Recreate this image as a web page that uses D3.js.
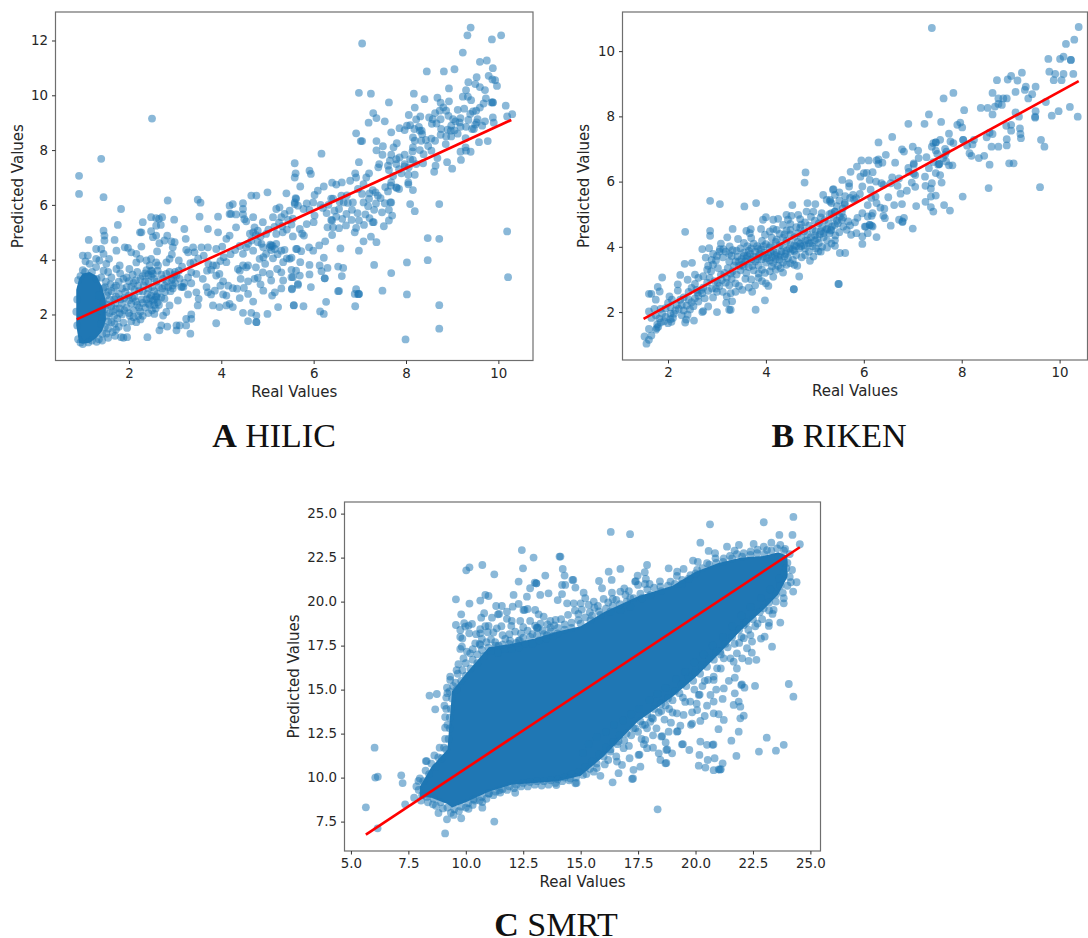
<!DOCTYPE html>
<html>
<head>
<meta charset="utf-8">
<script src="https://cdnjs.cloudflare.com/ajax/libs/d3/7.8.5/d3.min.js"></script>
<style type='text/css'>
body { margin: 0; background: #fff; }
svg { display: block; }
.tick text, .axislabel { font-family: "DejaVu Sans", sans-serif; fill: #262626; }
.tick text { font-size: 13.4px; }
.axislabel { font-size: 15px; text-anchor: middle; }
.tick line { stroke: #333; }
.frame { fill: none; stroke: #6e6e6e; stroke-width: 1.2; }
.point { fill: #1f77b4; fill-opacity: 0.52; stroke: none; }
.core { fill: #1f77b4; stroke: none; }
.fit { stroke: #ff0000; stroke-width: 2.6; fill: none; }
.title { font-family: "Liberation Serif", serif; font-size: 34px; fill: #111; text-anchor: middle; }
.title tspan { font-weight: bold; }
</style>
</head>
<body>
<div id="plot"></div>
<script type='text/javascript'>
// values: [real, predicted]
var hilicPoints = [
[9.40,12.47],[9.33,12.19],[9.86,12.04],[10.06,12.19],[7.05,11.89],[9.23,11.56],[9.60,11.22],[9.75,11.27],[9.88,10.99],[8.45,10.87],[8.82,10.87],[9.05,10.95],[9.79,10.71],[9.53,10.66],[9.35,10.48],[9.87,10.58],[9.93,10.55],[9.97,10.34],[9.50,10.41],[9.60,10.30],[9.71,10.19],[8.93,10.25],[9.30,10.19],[6.98,10.09],[7.24,10.06],[8.17,10.06],[7.63,9.74],[8.40,9.86],[8.68,9.91],[9.23,9.95],[9.34,9.95],[9.41,9.82],[8.93,9.78],[9.73,9.89],[9.68,9.70],[9.88,9.74],[9.88,9.74],[9.85,9.74],[10.16,9.62],[8.75,9.73],[8.81,9.56],[8.19,9.55],[9.60,9.55],[7.29,9.35],[7.36,9.17],[7.19,9.0],[7.54,9.05],[8.06,9.28],[8.31,9.23],[8.22,9.12],[8.50,9.19],[8.63,9.35],[8.73,9.44],[8.87,9.44],[9.12,9.47],[9.26,9.51],[9.45,9.41],[9.39,9.32],[9.52,9.44],[10.19,9.23],[10.30,9.31],[9.88,9.19],[9.90,9.0],[9.71,9.05],[9.65,8.89],[9.55,9.13],[9.53,9.01],[9.47,8.77],[9.43,8.77],[9.50,8.93],[9.18,9.17],[9.16,9.01],[9.18,8.85],[9.02,9.13],[9.07,9.05],[8.98,8.89],[8.97,8.71],[8.98,8.5],[8.76,8.77],[8.75,8.56],[8.87,8.5],[8.58,9.13],[8.75,9.13],[8.56,8.96],[8.66,8.97],[7.86,8.8],[7.97,8.73],[8.02,8.89],[8.09,8.91],[8.18,8.77],[8.30,8.71],[8.34,8.71],[6.92,8.61],[7.68,8.65],[8.15,8.46],[8.19,8.34],[8.33,8.34],[8.43,8.37],[8.63,8.34],[7.02,8.33],[7.05,8.33],[7.36,8.33],[7.80,8.25],[7.73,8.1],[7.50,8.14],[7.36,7.99],[7.49,7.83],[7.68,7.83],[7.97,7.83],[8.15,8.1],[8.14,7.95],[8.30,8.0],[8.55,7.98],[8.86,8.22],[9.29,8.44],[9.29,8.1],[9.18,7.94],[9.30,7.98],[9.40,7.94],[9.58,8.29],[9.77,8.33],[6.17,7.87],[5.59,7.52],[6.98,7.56],[7.79,7.67],[7.65,7.61],[7.42,7.49],[7.40,7.37],[7.61,7.43],[7.63,7.27],[7.79,7.49],[7.86,7.73],[8.09,7.67],[8.15,7.64],[7.97,7.49],[8.22,7.49],[8.37,7.52],[8.64,7.43],[8.68,7.71],[8.89,7.56],[9.0,7.32],[9.19,7.64],[8.61,7.21],[8.06,7.37],[8.19,7.1],[7.97,7.4],[5.91,7.25],[5.94,7.13],[5.61,7.15],[5.59,7.0],[6.90,7.15],[6.92,7.0],[7.20,7.15],[7.14,7.0],[6.79,6.88],[6.40,6.81],[6.49,6.74],[6.61,6.82],[6.22,6.67],[6.09,6.52],[5.71,6.67],[6.02,6.36],[5.99,6.09],[5.61,6.25],[5.59,6.09],[5.66,5.97],[6.38,6.23],[6.42,6.23],[6.60,6.34],[6.56,6.12],[6.65,6.09],[6.74,6.07],[6.85,6.09],[6.96,6.58],[7.08,6.76],[7.05,6.4],[7.21,6.42],[7.34,6.46],[7.39,6.34],[7.28,6.54],[7.08,6.09],[7.20,6.22],[7.61,6.49],[7.68,6.82],[7.67,6.7],[7.79,6.64],[7.85,6.58],[7.80,6.62],[8.05,6.82],[8.05,6.75],[8.15,6.54],[7.54,6.06],[7.68,6.09],[7.66,6.09],[7.31,5.82],[7.48,5.73],[7.63,5.82],[7.70,5.61],[8.09,6.03],[8.19,5.77],[8.72,6.03],[6.45,5.79],[6.83,5.82],[6.71,5.67],[6.62,5.49],[6.49,5.57],[6.40,5.43],[6.38,5.45],[6.42,5.18],[6.30,5.18],[6.40,4.9],[5.91,5.82],[6.02,5.61],[6.0,5.37],[5.85,5.3],[6.20,5.89],[5.52,5.28],[5.70,5.12],[5.79,4.88],[5.75,4.95],[6.98,5.43],[7.12,5.65],[7.21,5.52],[7.09,5.27],[7.30,5.37],[7.28,5.37],[7.52,5.22],[7.63,5.43],[6.89,5.0],[6.92,5.16],[6.25,4.67],[6.12,4.52],[5.90,4.45],[5.99,4.33],[5.64,4.39],[5.73,4.31],[6.58,4.41],[7.08,4.67],[7.24,4.84],[7.36,4.64],[6.98,4.33],[8.47,4.79],[8.72,4.76],[6.22,4.07],[5.71,3.91],[5.52,4.07],[5.91,3.81],[6.13,3.79],[6.30,3.7],[6.53,3.75],[6.64,3.7],[7.31,3.81],[8.02,3.9],[8.47,3.98],[6.61,3.4],[6.17,3.58],[6.24,3.32],[6.24,3.32],[5.91,3.46],[5.70,3.42],[5.52,3.63],[5.55,3.36],[7.68,3.51],[5.66,3.08],[5.94,3.0],[5.53,2.92],[6.53,2.85],[6.55,2.86],[6.92,2.92],[6.89,2.75],[6.98,2.75],[6.98,2.75],[6.96,2.74],[7.49,2.87],[8.02,2.73],[8.72,2.34],[6.27,2.46],[6.90,2.3],[5.57,2.34],[5.78,2.3],[6.14,2.11],[6.22,2.02],[8.72,1.48],[7.99,1.09],[10.19,5.03],[10.21,3.36],
[4.18,5.97],[4.25,6.03],[4.47,6.06],[4.47,5.85],[4.65,6.34],[4.76,6.34],[5.0,6.46],[5.41,6.42],[4.18,5.67],[4.21,5.67],[4.32,5.65],[4.47,5.65],[4.69,5.55],[4.32,5.18],[4.54,5.4],[4.50,5.48],[4.72,5.18],[4.79,5.06],[4.69,5.0],[4.90,5.37],[5.12,5.55],[5.19,5.85],[5.26,5.91],[5.37,5.67],[5.48,5.79],[5.59,6.03],[5.62,6.22],[4.97,4.94],[5.19,4.94],[5.33,5.0],[4.11,4.76],[4.18,4.88],[3.93,5.0],[3.71,5.12],[3.93,5.57],[3.53,5.57],[3.49,6.19],[3.55,6.08],[3.20,5.12],[2.98,5.46],[2.84,6.16],[2.48,5.55],[2.59,5.52],[2.72,5.55],[2.65,5.49],[2.30,5.37],[2.69,5.27],[2.59,5.24],[2.48,5.04],[2.27,5.0],[2.24,5.0],[2.83,4.88],[2.59,4.88],[2.52,4.82],[3.23,4.76],[2.66,4.6],[2.77,4.7],[2.92,4.67],[2.99,4.64],[2.95,4.45],[1.83,5.85],[1.76,5.27],[1.45,6.28],[0.92,6.4],[0.92,7.06],[1.4,7.68],[2.5,9.15],[1.45,5.06],[1.47,4.88],[1.47,4.7],[1.13,4.72],[1.69,4.72],[2.27,4.48],[1.91,4.45],[1.98,4.43],[1.73,4.33],[1.29,4.39],[1.40,4.39],[1.45,4.21],[2.61,4.3],[2.05,4.27],[2.16,4.21],[1.0,4.15],[1.11,4.15],[1.06,3.94],[1.15,3.85],[1.29,4.03],[1.36,3.97],[1.51,3.85],[1.57,4.03],[1.29,3.73],[1.80,3.79],[1.73,3.66],[1.81,3.5],[2.01,3.66],[2.16,3.9],[2.24,4.03],[2.38,3.97],[2.48,4.03],[2.59,3.9],[2.45,3.79],[2.48,3.6],[2.52,3.48],[2.63,3.79],[2.81,3.9],[2.88,4.03],[2.93,4.19],[3.08,3.97],[3.24,4.36],[3.39,4.45],[3.42,4.27],[3.28,4.27],[3.62,4.15],[3.71,4.45],[3.57,4.45],[3.89,4.39],[4.02,4.48],[4.05,4.09],[4.11,3.91],[3.82,3.79],[3.89,3.79],[3.78,3.63],[3.69,3.6],[3.89,3.42],[3.96,3.48],[4.04,3.21],[3.33,3.87],[3.35,3.54],[3.46,3.48],[3.60,3.3],[2.95,3.3],[3.03,3.42],[3.18,3.0],[3.13,3.0],[3.15,3.02],[2.95,3.06],[2.81,3.48],[2.74,3.3],[3.35,3.14],[3.46,2.81],[3.51,2.57],[3.49,2.33],[3.28,2.73],[3.06,2.51],[2.77,2.57],[2.59,2.66],[2.48,2.69],[3.82,2.33],[3.96,2.27],[4.11,2.33],[4.25,2.27],[4.18,2.39],[3.68,3.0],[3.71,2.81],[3.86,2.87],[3.78,2.73],[4.04,2.73],[4.11,2.69],[4.25,2.96],[4.34,2.94],[4.49,2.97],[4.58,2.75],[4.69,2.47],[4.91,2.87],[5.16,2.81],[5.10,2.69],[5.23,2.27],[5.57,2.33],[4.47,2.06],[4.65,2.06],[4.76,1.96],[4.58,1.76],[4.76,1.72],[4.76,1.72],[5.0,2.02],[3.89,1.68],[3.35,2.0],[3.24,1.84],[3.35,1.84],[3.03,1.6],[3.10,1.6],[2.83,1.56],[2.70,1.6],[2.66,1.42],[3.03,1.42],[3.24,1.6],[3.33,1.3],[2.40,1.17],[1.96,1.17],[1.83,1.17],[1.88,1.15],[2.16,1.72],[1.96,1.51],[1.69,1.66],[1.65,1.36],[1.51,1.3],[2.74,1.96],[2.81,2.09],[2.88,2.33],
[4.36,3.66],[4.47,3.79],[4.58,3.79],[4.40,3.6],[4.54,3.72],[4.72,3.3],[4.79,3.34],[4.58,3.21],[4.90,3.54],[5.05,3.48],[5.21,3.66],[5.08,3.24],[5.30,3.54],[5.34,3.24],[5.52,3.36],[5.62,3.6],[5.53,2.94],[5.66,3.12],[5.34,3.91],[5.48,4.03],[5.62,4.39],[4.83,4.03],[4.91,4.09],[4.97,4.21],[5.08,4.52],[5.19,4.58],[4.87,4.58],[4.58,4.58],[4.69,4.33],[4.47,4.21],[4.91,4.45],[5.05,4.46],[5.16,4.39],[4.54,4.45],[4.65,4.7],[4.79,4.64],[5.30,4.33],[5.37,4.36],[5.11,4.5],[5.06,4.55],
[1.42,1.3],[1.48,1.55],[1.55,1.75],[1.42,1.85],[1.58,2.05],[1.48,2.2],[1.62,2.3],[1.45,2.45],[1.68,2.55],[1.52,2.7],[1.62,2.85],[1.45,2.95],[1.72,2.2],[1.8,2.05],[1.75,1.85],[1.88,1.7],[1.68,1.95],[1.95,2.25],[1.85,2.4],[2.0,2.05],[2.02,1.95],[2.1,2.15],[2.05,2.4],[1.9,2.6],[1.78,2.75],[2.0,2.7],[1.85,2.95],[1.72,3.05],[1.95,3.0],[2.12,2.65],[2.18,2.35],[2.25,2.1],[2.3,1.95],[2.2,1.95],[2.35,2.25],[2.28,2.55],[2.42,2.4],[2.5,2.15],[2.45,2.6],[2.55,2.35],[2.4,2.75],[2.52,2.5],[2.62,2.45],[2.3,2.85],[2.2,3.05],[2.1,3.15],[2.35,3.2],[2.5,3.0],[2.6,3.2],[2.72,2.95],[2.82,3.2],[2.9,2.85],[3.0,3.55],[1.5,3.2],[1.4,3.35],[1.62,3.35],[1.55,3.55],[1.45,3.6],[1.95,3.35],[2.08,3.45],[2.25,3.3],[2.18,3.55],[2.35,3.5],[2.42,3.2],[2.48,3.4],[2.38,3.62],[2.62,3.6],[2.88,3.55],[2.92,3.25],[1.35,1.1],[1.3,1.0],[1.2,1.05],[1.12,0.98],[1.0,0.92],[0.95,0.98],[0.9,1.1],[1.3,3.3],[1.2,3.55],[1.05,3.55],[0.95,3.4],[0.9,3.25],[1.0,3.62],[0.88,2.55],[0.86,2.1],[0.88,1.6],[1.42,1.05],[1.38,2.15],[1.4,1.65],[1.35,2.7],
[1.55,1.48],[1.62,1.72],[1.52,1.95],[1.65,2.12],[1.55,2.35],[1.7,2.4],[1.58,2.55],[1.72,2.65],[1.55,2.82],[1.68,2.98],[1.8,2.22],[1.9,2.15],[1.82,2.55],[2.0,2.52],[2.08,2.6],[2.15,2.48],[2.22,2.25],[2.3,2.42],[2.38,2.55],[2.45,2.35],[2.55,2.55],[2.6,2.62],[2.65,2.35],[2.58,2.22],[2.7,2.62],[2.78,2.82],[2.85,3.0],[2.95,2.95],[3.0,3.15],[3.1,3.3],[3.2,3.15],[3.28,3.35],[2.78,3.05],[2.65,3.0],[2.55,2.85],[2.42,2.95],[2.32,3.05],[2.22,2.85],[2.12,2.9],[2.05,3.02],[1.92,2.82],[1.78,3.2],[1.88,3.3],[2.0,3.22],[2.15,3.25],[2.3,3.4],[2.42,3.45],[2.5,3.58],[2.55,3.3],[2.7,3.45],[1.48,3.0],[1.6,3.1],[1.55,1.15],[1.7,1.22],[1.78,1.55],[2.05,1.75],[2.25,1.82],[2.42,2.05],[2.55,2.02],[2.1,1.9],[1.72,1.45],[1.85,2.0],[2.62,2.75],[2.98,3.45],[3.08,3.6],[3.15,3.75],[3.4,3.9],[3.5,4.05],[3.72,3.85],[3.98,3.95],[4.2,4.2],[4.3,4.35],[4.4,4.5],[4.62,4.95],[4.75,4.9],[4.85,4.85],[5.02,5.1],[5.15,5.2],[5.25,5.35],[5.32,5.22],[5.45,5.45],[5.55,5.5],[5.3,5.55],[5.42,5.1],[5.55,4.85],[5.08,4.35],[5.22,4.2],[5.42,4.05],[5.12,4.05],[4.95,3.85],[4.75,3.72],[4.42,3.3],[4.15,3.05],[3.98,3.05],[4.4,2.6],[4.85,3.1],[5.3,2.95],[6.55,5.15],[6.7,5.25],[6.82,5.45],[6.95,5.7],[7.18,5.95],[7.35,6.05],[7.45,6.25],[7.55,6.65],[7.72,7.05],[7.9,7.15],[7.85,7.3],[8.05,7.1],[8.38,7.85],[8.48,8.15],[8.55,8.42],[8.9,8.75],[9.05,8.72],[9.12,8.6],[9.3,8.85],[9.35,9.1],[8.35,8.58],[8.28,8.85],[8.92,9.25],[5.85,6.05],[5.78,5.85],[6.15,6.0],[6.32,6.0],[6.28,5.7],[6.55,5.85],[6.72,6.35]
];
// outline of the region near x=1 where marks overlap into solid colour
var hilicCoreX = [0.86, 0.92, 1.0, 1.15, 1.3, 1.42, 1.5];
var hilicCoreLow = [1.6, 0.97, 0.93, 0.97, 1.15, 1.4, 1.8];
var hilicCoreHigh = [2.9, 3.3, 3.5, 3.55, 3.4, 3.0, 2.5];
var hilicFit = [[0.87,1.82],[10.28,9.1]];
var hilicXTicks = [2,4,6,8,10];
var hilicYTicks = [2,4,6,8,10,12];

var rikenPoints = [
[7.39,10.71],[10.39,10.74],[10.30,10.35],[10.13,10.22],[9.77,9.76],[10.01,9.76],[10.08,9.83],[10.23,9.73],[10.23,9.73],[9.79,9.37],[9.91,9.3],[10.08,9.3],[10.28,9.3],[9.88,9.11],[10.04,9.11],[9.23,9.34],[9.01,9.24],[8.94,9.13],[9.14,9.1],[8.72,9.11],[9.31,8.91],[9.29,8.81],[9.51,8.91],[9.10,8.75],[8.63,8.72],[9.44,8.68],[9.36,8.55],[8.92,8.55],[8.85,8.55],[8.75,8.55],[8.82,8.35],[8.75,8.38],[8.68,8.3],[8.53,8.26],[8.39,8.26],[8.05,8.19],[7.63,8.55],[7.83,8.72],[9.72,8.44],[9.51,8.16],[10.21,8.29],[9.98,8.16],[9.84,8.02],[10.37,7.99],[9.10,8.12],[9.17,7.99],[9.50,7.99],[9.50,7.96],[8.63,8.06],[7.33,8.06],[6.91,7.77],[7.24,7.77],[7.58,7.83],[7.91,7.74],[7.97,7.81],[8.01,7.66],[8.91,7.71],[9.01,7.74],[9.01,7.56],[9.19,7.63],[9.20,7.46],[9.21,7.33],[8.92,7.3],[8.92,7.11],[8.75,7.07],[8.61,7.07],[8.63,7.46],[8.51,7.36],[8.57,7.5],[9.62,7.28],[9.69,7.07],[7.74,7.47],[6.58,7.37],[6.30,7.2],[7.0,7.07],[7.11,6.95],[6.78,6.99],[6.82,6.92],[7.39,7.07],[7.47,7.2],[7.47,7.2],[7.42,7.18],[7.56,7.28],[7.47,6.95],[7.66,7.0],[7.69,6.92],[7.77,7.23],[7.83,7.18],[8.03,7.28],[8.03,7.28],[8.11,7.1],[8.22,7.14],[8.25,7.28],[8.16,6.87],[8.20,6.79],[8.35,6.72],[8.46,6.79],[8.57,6.52],[8.97,6.56],[9.06,6.56],[7.28,6.75],[7.62,6.72],[7.54,6.54],[7.54,6.54],[7.52,6.52],[7.66,6.82],[7.81,6.5],[7.74,6.5],[7.33,6.41],[7.02,6.56],[7.02,6.52],[6.91,6.42],[7.05,6.2],[7.02,6.25],[7.47,6.26],[7.56,6.2],[7.59,5.97],[6.98,5.97],[7.05,5.84],[7.26,5.87],[7.39,5.95],[7.37,5.78],[7.37,5.54],[7.47,5.57],[7.26,5.38],[7.07,5.25],[6.78,5.31],[6.62,5.28],[6.75,5.63],[6.69,5.87],[6.58,6.13],[6.72,6.1],[6.64,6.58],[6.45,6.82],[6.30,6.68],[6.38,6.58],[6.30,6.54],[6.26,6.65],[6.10,6.65],[5.95,6.65],[5.86,6.46],[5.73,6.3],[5.56,6.05],[5.70,5.95],[5.70,5.85],[5.38,5.77],[5.50,5.67],[6.0,6.26],[5.93,6.15],[6.06,6.27],[6.18,6.29],[6.12,6.05],[6.25,6.0],[6.36,5.95],[6.40,5.9],[5.97,5.85],[6.14,5.75],[5.78,5.59],[5.84,5.49],[6.24,5.54],[6.26,5.34],[6.08,5.28],[6.34,5.2],[6.42,5.17],[5.61,5.34],[5.61,5.3],[5.57,5.18],[5.80,5.45],[8.02,5.54],[8.55,5.8],[9.60,5.83],[7.64,5.28],[7.76,5.11],[7.37,5.22],[7.42,5.08],[6.82,4.89],[6.72,4.83],[6.79,4.78],[6.79,4.76],[6.55,4.65],[7.0,4.56],[6.43,4.88],[6.40,4.95],[6.18,5.03],[5.97,5.03],[5.87,4.89],[6.08,4.93],[6.16,4.95],[6.12,4.67],[6.12,4.67],[6.16,4.65],[6.02,4.62],[6.04,4.62],[6.18,4.62],[5.82,4.75],[5.74,4.37],[5.85,4.42],[5.97,4.32],[6.08,4.42],[6.26,4.3],[5.97,4.09],[5.51,3.81],[5.62,3.81],[5.49,2.86],[5.34,4.52],[5.41,4.67],[5.55,4.83],[5.58,4.62],[5.65,4.52],[5.41,4.2],[5.34,4.1],[5.41,4.03],[5.51,4.93],[5.34,5.03],[5.41,5.08],[5.31,5.44],[5.34,5.34],[5.58,4.9],[5.47,4.72],[5.72,4.66],[5.68,4.78],
[4.81,6.28],[4.79,5.97],[2.86,5.41],[3.06,5.31],[3.56,5.24],[3.80,5.34],[4.54,5.28],[4.85,5.34],[5.01,5.31],[5.17,5.59],[5.24,5.44],[5.37,5.75],[5.41,5.59],[5.31,5.39],[4.83,5.08],[4.97,5.08],[5.14,5.03],[5.41,5.08],[4.42,4.98],[4.52,4.95],[4.66,4.98],[4.45,4.83],[3.94,4.83],[4.0,4.91],[4.15,4.83],[4.25,4.86],[4.35,4.67],[2.35,4.46],[2.86,4.49],[2.86,4.34],[3.32,4.55],[3.60,4.49],[3.69,4.54],[3.67,4.42],[3.21,4.29],[3.43,4.24],[3.70,4.27],[3.98,4.37],[4.08,4.47],[4.22,4.52],[2.70,3.93],[2.84,3.96],[3.06,3.93],[3.13,3.93],[3.26,4.01],[2.77,3.67],[2.89,3.6],[2.34,3.48],[2.49,3.51],[1.88,3.06],[2.25,3.14],[2.40,2.99],[2.55,2.86],[2.48,2.74],[2.20,2.66],[1.79,2.77],[1.83,2.63],[1.61,2.56],[1.66,2.56],[1.75,2.38],[2.03,2.48],[4.35,3.21],[4.68,3.09],[4.64,3.42],[4.73,3.68],[4.90,3.57],[4.97,3.7],[5.07,3.86],[4.57,2.7],[4.57,2.7],[5.48,2.86],[3.98,2.36],[3.79,2.07],[3.0,2.0],[2.82,2.17],[2.70,2.0],[2.72,2.03],[3.25,2.07],[3.28,2.07],[3.31,2.33],[3.19,2.28],[1.56,1.03],[1.52,1.25],[1.66,1.28],[1.61,1.15],[1.61,1.48],[1.75,1.46],[1.77,1.51],[1.61,2.02],[1.66,1.82],[2.53,1.74],[2.35,1.68],[2.37,1.77],[2.0,1.66],[2.07,1.7],[1.85,1.68],
[1.78,1.62],[1.82,1.8],[1.75,1.9],[1.88,1.95],[1.95,1.85],[1.72,2.1],[1.85,2.1],[1.95,2.12],[2.05,1.95],[2.1,1.82],[2.05,2.15],[2.0,2.28],[2.08,2.38],[2.15,2.05],[2.18,2.22],[2.25,2.38],[2.32,2.45],[2.38,2.2],[2.32,2.05],[2.28,1.9],[2.4,1.92],[2.45,2.08],[2.48,2.3],[2.55,2.42],[2.62,2.5],[2.7,2.58],[2.75,2.42],[2.62,2.32],[2.72,2.75],[2.8,2.9],[2.85,3.05],[2.8,3.3],[2.72,3.1],[2.82,3.42],[2.88,3.25],[2.92,3.45],[2.98,3.58],[3.02,3.35],[3.08,3.15],[2.95,2.95],[3.05,2.8],[3.0,2.62],[2.92,2.45],[2.98,2.72],[3.12,2.62],[3.2,2.48],[3.28,2.58],[3.38,2.62],[3.18,2.9],[3.25,2.82],[3.3,3.02],[3.38,2.88],[3.45,2.8],[3.52,2.68],[3.65,2.75],[3.72,2.62],[3.78,2.82],[3.58,3.02],[3.7,3.0],[3.85,3.05],[3.92,2.95],[4.0,2.88],[4.05,2.8],[3.15,3.2],[3.22,3.35],[3.32,3.25],[3.4,3.15],[3.48,3.28],[3.25,3.55],[3.12,3.68],[3.18,3.85],[3.3,3.72],[3.38,3.55],[3.45,3.42],[3.55,3.4],[3.42,3.7],[3.5,3.62],[3.58,3.55],[3.65,3.38],[3.72,3.42],[3.4,3.88],[3.48,3.95],[3.55,3.82],[3.62,3.72],[3.7,3.62],[3.78,3.55],[3.85,3.42],[3.92,3.3],[3.98,3.2],[4.08,3.25],[4.15,3.08],[4.12,3.4],[4.2,3.3],[3.62,4.02],[3.7,3.95],[3.78,3.85],[3.85,3.72],[3.92,3.62],[4.0,3.52],[4.08,3.58],[4.15,3.52],[4.25,3.42],[3.75,4.1],[3.82,4.02],[3.9,3.92],[3.98,3.82],[4.05,3.75],[4.12,3.68],[4.2,3.62],[4.28,3.6],[4.35,3.52],[4.42,3.45],[4.5,3.5],[3.92,4.18],[4.0,4.08],[4.08,3.98],[4.15,3.88],[4.22,3.82],[4.3,3.75],[4.38,3.7],[4.45,3.65],[4.55,3.6],[4.62,3.75],[4.12,4.28],[4.2,4.15],[4.28,4.05],[4.35,3.98],[4.42,3.88],[4.5,3.85],[4.58,3.88],[4.68,3.95],[4.28,4.4],[4.35,4.28],[4.42,4.18],[4.5,4.08],[4.58,4.05],[4.65,4.15],[4.72,4.02],[4.8,3.95],[4.88,3.85],[4.42,4.5],[4.5,4.38],[4.58,4.3],[4.65,4.42],[4.72,4.28],[4.8,4.18],[4.88,4.1],[4.95,4.02],[4.62,4.6],[4.7,4.58],[4.78,4.48],[4.85,4.38],[4.92,4.3],[5.0,4.2],[5.08,4.12],[5.15,4.0],[4.8,4.75],[4.88,4.65],[4.95,4.55],[5.02,4.48],[5.1,4.38],[5.18,4.3],[5.25,4.2],[5.0,4.8],[5.08,4.72],[5.15,4.6],[5.22,4.52],[5.3,4.42],[5.12,4.9],[5.2,4.82],[5.28,4.72],[5.35,4.62],[5.3,5.0],[5.38,4.9],[5.45,4.8],[5.02,3.95],[5.25,3.98],[5.42,4.35],[5.5,4.45],[5.55,5.05],[5.45,5.25],[2.2,2.85],[2.55,3.15],[2.62,3.05],[2.58,2.68],[2.42,2.62],[3.08,4.1],[3.55,4.12],[3.9,4.55],[4.15,4.55],[4.5,4.7],[4.7,4.85],[4.92,4.92],
[3.6,3.65],[3.68,3.78],[3.75,3.7],[3.82,3.62],[3.88,3.78],[3.95,3.7],[4.02,3.65],[4.1,3.82],[4.18,3.75],[4.25,3.7],[4.32,3.85],[4.4,3.78],[4.48,3.95],[4.55,3.92],[4.62,4.02],[4.7,4.1],[4.78,4.05],[4.85,4.2],[4.92,4.12],[5.0,4.35],[5.05,4.25],[5.12,4.48],[5.18,4.42],[5.25,4.55],[5.32,4.5],[3.45,3.55],[3.52,3.45],[3.35,3.42],[3.28,3.18],[3.2,3.05],[3.1,2.98],[3.02,2.9],[2.9,2.72],[2.82,2.65],[2.68,2.68],[3.6,3.2],[3.75,3.28],[3.85,3.18],[4.3,3.35],[4.58,3.45],[4.8,3.75],[5.12,3.85],[4.1,4.05],[4.22,4.22],[4.38,4.38],[4.5,4.52],[4.72,4.68],[3.95,4.02],[3.85,3.95],[3.65,3.88],[3.55,3.72],[3.25,3.78],[3.32,3.9],[3.0,3.72],[3.05,3.85],[2.92,3.78],[2.05,1.78],[2.12,1.95],[2.22,2.1],[1.92,1.72],[1.8,1.55],[2.28,2.22],[2.42,2.38],[2.52,2.18],[2.6,2.6],[6.92,6.3],[7.12,6.72],[7.42,6.6],[7.5,6.85],[7.68,6.62],[7.25,6.15],[6.88,5.72],[6.5,5.52],[6.55,5.95],[6.15,5.5],[5.92,5.62],[5.72,5.5],[5.62,5.55],[5.5,5.42]
];
var rikenFit = [[1.5,1.79],[10.39,9.08]];
var rikenXTicks = [2,4,6,8,10];
var rikenYTicks = [2,4,6,8,10];

var smrtPoints = [
[12.44,22.93],[12.95,22.5],[12.49,21.89],[10.16,21.95],[10.02,21.78],[10.72,22.08],[11.24,21.55],[12.30,21.14],[13.46,21.48],[14.08,22.56],[13.07,21.04],[13.07,21.04],[13.0,21.08],[12.8,20.76],[12.66,20.28],[12.08,20.38],[13.24,20.38],[13.6,20.47],[9.57,20.13],[10.63,20.06],[10.85,20.38],[10.99,20.32],[10.16,19.89],[11.32,19.75],[11.57,19.75],[12.30,19.87],[12.04,19.71],[11.79,19.43],[9.8,19.28],[10.8,19.34],[10.67,19.09],[11.14,19.09],[11.4,19.28],[11.45,19.3],[11.79,19.02],[12.0,18.9],[12.37,18.9],[12.51,19.53],[12.56,19.53],[12.69,19.58],[13.02,19.53],[13.17,19.28],[13.39,19.15],[13.68,18.9],[13.91,18.96],[9.57,18.67],[9.93,18.77],[9.98,18.58],[10.27,18.73],[10.12,18.64],[9.76,18.39],[10.63,18.43],[10.99,18.62],[11.35,18.48],[11.98,18.62],[10.95,18.26],[9.76,17.99],[10.63,18.2],[10.7,17.88],[10.41,17.63],[11.28,17.69],[11.72,17.88],[11.93,17.78],[12.3,17.78],[12.35,17.8],[12.69,18.35],[13.1,18.52],[13.1,18.52],[13.15,18.5],[13.02,18.64],[13.68,18.52],[13.53,18.1],[9.83,17.44],[9.76,17.31],[10.05,17.16],[10.19,17.06],[10.7,17.25],[10.63,17.54],[10.99,17.39],[11.43,17.5],[9.9,16.78],[9.68,16.44],[9.32,15.74],[9.32,15.55],[9.18,15.11],[9.29,14.9],[9.15,14.55],[8.42,14.66],[8.74,14.75],[8.67,13.88],[9.07,14.09],
[6.03,11.7],[6.06,10.0],[6.17,10.05],[7.19,10.13],[7.25,9.69],[5.65,8.31],[6.16,7.12],[7.36,8.48],[7.75,8.86],[7.94,9.81],[8.26,10.94],[8.3,10.94],[8.63,11.26],[8.86,11.7],[9.1,12.84],[9.1,13.44],[8.57,8.48],[8.81,7.99],[9.18,7.63],[9.47,7.88],[9.8,7.69],[9.1,6.83],[10.12,8.23],[10.72,8.61],[10.72,8.29],[11.24,7.5],[12.15,9.14],[11.46,9.28],[11.0,9.09],[10.34,8.77],
[24.26,24.81],[22.97,24.51],[20.63,24.39],[16.31,23.96],[17.15,23.83],[23.65,23.79],[24.22,23.79],[20.21,23.35],[24.54,23.26],[21.89,23.22],[22.53,23.28],[21.37,23.12],[22.97,23.12],[20.57,22.88],[14.12,22.56],[17.89,22.08],[16.73,21.86],[16.22,21.7],[14.22,21.86],[17.79,21.67],[17.48,21.48],[18.83,21.89],[19.48,21.86],[19.89,22.33],[19.19,21.46],[14.3,21.48],[14.64,21.23],[14.68,21.23],[15.8,21.17],[16.35,21.23],[17.37,21.14],[17.4,21.16],[17.84,21.29],[14.19,20.95],[14.33,20.95],[14.77,20.8],[15.93,20.76],[15.13,20.51],[14.19,20.43],[15.2,20.19],[16.36,20.51],[16.73,20.57],[16.95,20.38],[17.16,20.19],[14.0,20.09],[14.41,19.9],[14.7,19.9],[15.0,19.9],[15.35,19.81],[15.57,20.0],
[24.25,20.57],[23.84,20.19],[23.69,18.81],[23.19,18.62],[23.01,18.01],[23.33,17.44],[22.65,16.69],[22.31,16.63],[22.03,16.78],[21.71,15.68],[22.59,15.21],[21.99,15.26],[22.02,15.3],[22.13,15.11],[21.23,15.07],[20.79,15.55],[20.54,15.55],[21.71,14.79],[24.06,15.32],[24.26,14.6],[21.88,14.32],[21.66,14.13],[21.95,14.03],[22.1,13.52],[21.95,13.37],[21.18,14.47],[20.65,14.7],[20.79,14.32],[20.5,14.09],[20.14,14.7],[20.18,14.72],[19.77,14.32],[20.07,13.84],[19.85,13.71],[20.79,13.65],[21.01,13.6],[21.23,13.28],[20.21,13.22],[19.85,13.07],[21.0,12.75],[21.88,12.61],[19.34,12.95],[18.83,12.61],[19.19,12.61],[19.22,12.64],[18.93,13.12],[19.19,13.65],[19.48,13.56],[18.51,13.79],[18.51,12.33],[18.55,12.36],[18.03,13.18],[17.89,12.8],[21.56,12.1],[23.1,12.27],[23.84,11.86],[23.5,11.53],[22.76,11.48],[21.78,11.23],[20.21,12.05],[20.5,11.86],[20.74,11.86],[20.78,11.88],[20.83,11.1],[20.53,11.0],[20.17,11.29],[19.73,11.57],[19.41,11.89],[19.45,11.9],[18.98,11.38],[18.73,11.57],[18.77,11.6],[18.4,11.38],[18.47,11.0],[18.69,10.81],[18.73,10.83],[20.14,10.68],[20.43,10.57],[20.79,10.42],[21.01,10.47],[21.06,10.45],[21.1,10.48],[21.18,10.81],[18.35,8.2],[16.39,9.73],[17.24,9.92],[17.28,9.95],[16.65,10.25],[15.86,10.1],[14.77,9.68],[14.82,9.7],[13.94,9.58],[15.57,10.34],[17.6,10.62],[17.3,10.44],[17.13,11.1],[17.52,11.29],[17.56,11.31],[17.89,11.67],[17.81,12.14],[17.38,12.8],[16.65,12.05],[16.87,11.67],[16.29,11.48],[16.8,10.72],[16.58,10.91],
[22.46,17.73],[22.1,17.92],[22.24,17.35],[21.8,17.06],[21.52,16.78],[21.66,16.59],[21.23,16.78],[20.94,16.21],[20.79,15.74],[21.08,17.16],[22.1,18.67],[22.39,18.1],[23.4,19.53],[23.84,19.9],[22.97,19.62],
[23.69,23.22],[23.55,23.03],[23.11,22.93],[22.68,22.75],[22.39,22.65],[22.03,22.56],[21.59,22.46],[21.23,22.46],[20.87,22.46],[20.5,22.18],[20.07,21.8],[19.78,21.51],[19.42,21.23],[18.91,21.14],[18.47,20.85],[18.04,20.38],[17.67,20.19],[17.16,19.71],[16.73,19.53],[16.29,19.43],[15.86,19.24],[15.43,18.96],[15.0,18.75],[14.6,18.5],[14.3,18.7],[14.0,18.2],
[23.9,23.0],[24.1,22.7],[24.0,22.2],[23.85,21.6],[24.15,21.1],[24.4,21.1],[24.2,21.8],[23.7,20.9],[23.5,20.4],[23.2,19.95],[22.8,19.4],[22.5,19.0],[22.2,18.8],[21.9,18.4],[21.6,18.0],[21.3,17.6],[20.9,17.2],[20.6,16.8],[20.3,16.4],[20.0,16.0],[19.7,15.7],[19.4,15.3],[19.1,14.9],[18.8,14.5],[18.5,14.2],[18.2,13.9],[17.9,13.6],[17.6,13.2],[17.3,12.8],[17.0,12.5],[16.7,12.4],[16.4,12.0],[16.1,11.7],[15.8,11.3],[15.5,10.9],[15.2,10.6],[14.9,10.3],[14.6,10.2],[14.3,10.0],[14.0,9.9],[13.7,9.85],[13.4,9.8],[13.1,9.8],[12.8,9.75],[12.5,9.7],[12.2,9.6],[11.9,9.5],[11.6,9.35],[11.3,9.2],[11.0,9.1],[10.7,8.9],[10.4,8.7],[10.1,8.55],[9.8,8.35],[9.5,8.2],[9.2,8.3],[8.9,8.6],[8.6,8.8],[8.3,8.9],[8.1,9.0],[7.95,9.3],[8.15,9.8],[8.4,10.2],[8.7,10.6],[8.95,11.1],[9.15,11.6],[9.25,12.2],[9.3,12.8],[9.3,13.4],[9.35,13.9],[9.4,14.5],[9.6,15.0],[9.8,15.5],[10.0,15.8],[10.2,16.2],[10.5,16.5],[10.8,16.9],[11.1,17.2],[11.4,17.1],[11.7,17.3],[12.0,17.3],[12.3,17.4],[12.6,17.6],[12.9,17.6],[13.2,17.8],[13.5,17.9],[13.8,18.05],
[9.65,15.9],[10.3,16.7],[10.5,17.0],[11.6,18.1],[12.4,18.2],[12.9,18.15],[13.35,18.35],[10.9,17.7],[11.1,17.85],[14.9,19.3],[15.4,19.4],[15.75,19.75],[16.2,19.95],[16.55,20.1],[17.1,20.6],[18.0,21.0],[18.45,21.15],[19.2,21.7],[20.1,22.25],[20.85,22.75],[21.7,22.9],[23.3,23.35],[16.2,11.0],[15.7,10.55],[17.7,13.0],[18.15,13.35],[18.85,13.9],[19.45,14.55],[20.4,15.5],[21.1,16.2],[21.9,17.65],[22.7,18.75],[23.35,19.3],[24.0,20.9],
[11.3,17.5],[11.6,17.55],[11.9,17.6],[12.2,17.65],[12.5,17.95],[12.8,18.0],[13.1,18.1],[13.4,18.15],[13.7,18.3],[14.0,18.5],[14.3,18.4],[14.6,18.8],[14.9,18.95],[15.2,19.1],[15.5,19.2],[15.8,19.45],[16.1,19.6],[16.4,19.75],[16.7,19.85],[17.0,20.0],[17.3,20.2],[17.6,20.45],[17.9,20.7],[18.2,20.8],[18.5,20.6],[18.8,20.9],[19.1,21.0],[19.4,21.0],[19.7,21.3],[20.0,21.6],[20.3,21.9],[20.6,22.1],[20.9,22.2],[21.2,22.25],[21.5,22.6],[21.8,22.7],[22.1,22.75],[22.4,22.85],[22.7,22.95],[23.0,22.7],[23.3,22.9],[23.6,22.5],[23.85,22.9],[10.0,16.5],[10.3,17.3],[10.6,17.6],[9.55,15.4],[9.6,16.1],[9.85,16.1],[9.45,15.2],
[9.2,14.8],[9.15,13.9],[9.2,13.0],[9.1,12.2],[9.05,11.7],[8.8,11.15],[8.5,10.8],[8.25,10.4],[8.0,9.95],[7.85,9.5],[8.05,8.7],[8.35,8.6],[8.7,8.4],[9.0,8.25],[9.35,8.0],[9.7,8.1],[10.0,8.3],[10.3,8.45],[10.6,8.7],[10.9,8.8],[11.2,9.0],[11.5,9.15],[11.8,9.3],[12.1,9.4],[12.4,9.5],[12.7,9.5],[13.0,9.6],[13.3,9.55],[13.6,9.6],[13.9,9.7],[14.2,9.8],[14.5,9.85],[14.8,10.0],[15.1,10.15],[15.4,10.5],[15.7,10.8],[16.0,11.2],[16.3,11.6],[16.6,11.9],[16.9,12.1],[17.2,12.4],[17.5,12.6],[17.8,13.0],[18.1,13.4],[18.4,13.7],[18.7,14.1],[19.0,14.4],[19.3,14.8],[19.6,15.2],[19.9,15.5],[20.2,15.9],[20.5,16.3],[20.8,16.7],[21.1,17.0],[21.4,17.4],[21.7,17.6],[22.0,18.0],[22.3,18.4],[22.6,18.6],[22.9,19.0],[23.2,19.5],[23.5,20.0],[23.8,20.5],[24.1,21.4],
[15.1,11.4],[15.35,11.9],[15.7,12.3],[16.1,12.6],[16.45,13.0],[16.85,13.25],[17.2,13.6],[17.55,13.9],[18.0,14.4],[18.35,14.75],[18.7,15.1],[19.15,15.6],[19.55,16.0],[19.95,16.55],[20.35,17.0],[20.75,17.5],[21.2,18.0],[21.6,18.6],[22.0,19.2],[22.4,19.7],[22.85,20.2],[23.25,20.7],[23.65,21.3],[23.85,22.2],[23.95,21.9],[18.3,12.8],[18.65,13.3],[19.0,13.7],[19.55,14.3],[17.65,12.2],[17.1,11.8],[16.55,11.2],[16.05,10.75],[15.25,10.2],[14.55,9.95],[19.95,15.0],[20.3,15.2],[17.75,11.9],[18.15,12.4],[18.7,12.0],[18.15,11.7],[19.8,13.0],[20.4,13.5],[20.05,14.2],[20.9,15.0],[21.45,15.5],[21.8,16.2],[22.45,17.1],[22.85,17.9],[23.2,18.8],[9.85,17.9],[10.15,18.2],[10.45,18.15],[10.85,18.6],[11.2,18.25],[11.55,18.6],[11.9,18.15],[12.15,18.3],[12.5,18.55],[12.8,18.9],[13.25,18.75],[13.55,18.7],[13.85,18.65],[14.15,19.0],[14.45,19.25],[14.75,19.5],[15.05,19.55],[15.6,19.65],[16.0,20.15],[16.4,20.15],[16.9,20.75],[17.5,20.95],[17.8,21.0]
];
// outline of the band where marks overlap into solid colour
var smrtCoreX = [8.0, 8.5, 9.2, 9.4, 10, 11, 12, 13, 14, 15, 16, 17.5, 19, 20, 21, 22, 23, 23.6, 24.0];
var smrtCoreLow = [8.9, 8.85, 8.5, 8.3, 8.6, 9.2, 9.6, 9.7, 9.8, 10.1, 11.2, 13.2, 14.6, 15.7, 17.0, 18.4, 19.6, 20.4, 21.4];
var smrtCoreHigh = [9.5, 10.6, 11.6, 14.9, 15.9, 17.4, 17.6, 17.9, 18.3, 18.6, 19.4, 20.3, 20.9, 21.7, 22.2, 22.5, 22.6, 22.8, 22.6];
var smrtFit = [[5.65,6.76],[24.54,23.09]];
var smrtXTicks = [5,7.5,10,12.5,15,17.5,20,22.5,25];
var smrtYTicks = [7.5,10,12.5,15,17.5,20,22.5,25];

var svg = d3.select("div#plot").append("svg")
    .attr("width", 1088)
    .attr("height", 938);

function drawPanel(p)
{
  var x = d3.scaleLinear().domain(p.xdom).range([p.left, p.right]);
  var y = d3.scaleLinear().domain(p.ydom).range([p.bottom, p.top]);
  var g = svg.append("g");

  if (p.coreX)
  {
    var rows = p.coreX.map(function(v, i) { return [v, p.coreLow[i], p.coreHigh[i]]; });
    g.append("path")
      .datum(rows)
      .attr("class", "core")
      .attr("d", d3.area()
        .x(function(d) { return x(d[0]); })
        .y0(function(d) { return y(d[1]); })
        .y1(function(d) { return y(d[2]); }));
  }

  g.selectAll("circle.point")
    .data(p.points)
    .enter().append("circle")
      .attr("class", "point")
      .attr("cx", function(d) { return x(d[0]); })
      .attr("cy", function(d) { return y(d[1]); })
      .attr("r", 3.9);

  g.append("path")
    .datum(p.fit)
    .attr("class", "fit")
    .attr("d", d3.line().x(function(d) { return x(d[0]); }).y(function(d) { return y(d[1]); }));

  g.append("rect")
    .attr("class", "frame")
    .attr("x", p.left)
    .attr("y", p.top)
    .attr("width", p.right - p.left)
    .attr("height", p.bottom - p.top);

  var xaxis = d3.axisBottom(x).tickValues(p.xticks).tickSize(3.5).tickPadding(4).tickFormat(d3.format(p.fmt));
  var yaxis = d3.axisLeft(y).tickValues(p.yticks).tickSize(3.5).tickPadding(4).tickFormat(d3.format(p.fmt));
  g.append("g").attr("transform", "translate(0," + p.bottom + ")").call(xaxis).select(".domain").remove();
  g.append("g").attr("transform", "translate(" + p.left + ",0)").call(yaxis).select(".domain").remove();

  g.append("text")
    .attr("class", "axislabel")
    .attr("x", (p.left + p.right) / 2)
    .attr("y", p.bottom + 36)
    .text("Real Values");
  g.append("text")
    .attr("class", "axislabel")
    .attr("transform", "translate(" + p.ylabelx + "," + ((p.top + p.bottom) / 2) + ") rotate(-90)")
    .text("Predicted Values");

  var t = g.append("text")
    .attr("class", "title")
    .attr("x", p.titlex)
    .attr("y", p.titley);
  t.append("tspan").text(p.letter);
  t.append("tspan").attr("style", "font-weight:normal").text(" " + p.name);
}

drawPanel({
  points: hilicPoints, fit: hilicFit, coreX: hilicCoreX, coreLow: hilicCoreLow, coreHigh: hilicCoreHigh,
  xticks: hilicXTicks, yticks: hilicYTicks, fmt: "d",
  xdom: [0.41, 10.75], ydom: [0.32, 13.04],
  left: 55.5, right: 533, top: 12, bottom: 360.5,
  ylabelx: 23, titlex: 274, titley: 447, letter: "A", name: "HILIC"
});
drawPanel({
  points: rikenPoints, fit: rikenFit,
  xticks: rikenXTicks, yticks: rikenYTicks, fmt: "d",
  xdom: [1.07, 10.57], ydom: [0.53, 11.2],
  left: 622.5, right: 1087.5, top: 12, bottom: 360,
  ylabelx: 589, titlex: 839, titley: 447, letter: "B", name: "RIKEN"
});
drawPanel({
  points: smrtPoints, fit: smrtFit, coreX: smrtCoreX, coreLow: smrtCoreLow, coreHigh: smrtCoreHigh,
  xticks: smrtXTicks, yticks: smrtYTicks, fmt: ".1f",
  xdom: [4.72, 25.44], ydom: [5.83, 25.66],
  left: 344.5, right: 820.5, top: 502, bottom: 851,
  ylabelx: 299, titlex: 556, titley: 936, letter: "C", name: "SMRT"
});
</script>
</body>
</html>
